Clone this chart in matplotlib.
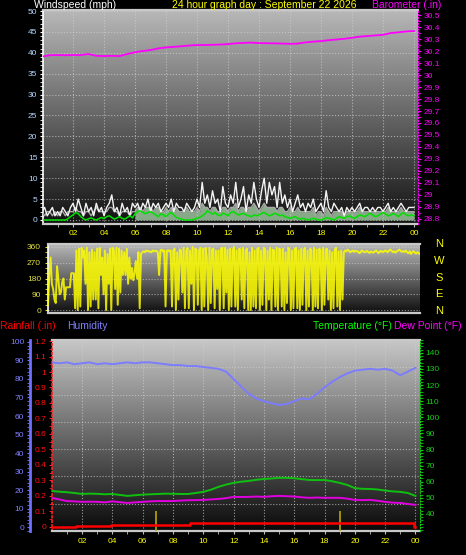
import numpy as np
import matplotlib.pyplot as plt
from matplotlib.ticker import MultipleLocator, FuncFormatter

plt.rcParams['font.family'] = ['Liberation Sans', 'DejaVu Sans']

# ---- data -------------------------------------------------------------
# wind, 10 minute readings (mph)
wind_gust = [2, 3, 1, 2, 3, 1,  2, 1, 3, 2, 1, 3,  4, 2, 5, 3, 1, 4,
             2, 3, 1, 4, 2, 3,  1, 3, 4, 6, 2, 3,  1, 4, 2, 3, 1, 4,
             3, 4, 2, 4, 3, 5,  2, 4, 3, 4, 2, 3,  4, 3, 5, 2, 4, 3,
             3, 2, 4, 3, 2, 3,  5, 3, 9, 4, 6, 3,  7, 4, 5, 2, 8, 4,
             3, 6, 4, 9, 3, 5,  8, 2, 6, 4, 9, 5,  3, 7, 10, 4, 9, 6,
             8, 3, 9, 4, 6, 3,  5, 2, 4, 6, 3, 4,  2, 4, 3, 5, 2, 3,
             4, 2, 7, 3, 2, 4,  3, 2, 3, 1, 3, 2,  3, 2, 3, 4, 2, 3,
             3, 2, 3, 2, 3, 3,  2, 3, 4, 2, 3, 2,  3, 4, 3, 2, 3, 3, 3]
wind_speed = [2, 1, 2, 2, 1, 2,  1, 2, 2, 1, 2, 2,  2, 3, 2, 2, 1, 2,
              2, 1, 2, 3, 2, 2,  2, 2, 3, 3, 2, 2,  1, 2, 2, 2, 1, 2,
              2, 3, 3, 2, 3, 3,  3, 2, 3, 3, 2, 2,  3, 2, 3, 2, 3, 2,
              2, 2, 3, 2, 2, 2,  3, 2, 4, 3, 3, 2,  3, 3, 2, 2, 3, 3,
              2, 3, 3, 4, 2, 3,  3, 2, 3, 3, 4, 3,  2, 3, 4, 3, 3, 3,
              3, 2, 3, 3, 2, 2,  3, 2, 2, 3, 2, 2,  2, 2, 2, 3, 1, 2,
              2, 1, 3, 2, 1, 2,  2, 2, 2, 1, 2, 2,  2, 2, 2, 3, 2, 2,
              2, 2, 2, 2, 2, 2,  2, 2, 3, 2, 2, 2,  2, 3, 2, 2, 2, 2, 2]
wind_avg = [0, 0, 0, 0, 0, 0,  0, 0, 0, 0, 0.3, 0.8,  1.2, 1.8, 1.5, 0.8, 0.3, 0,
            0.3, 0.5, 0.2, 0, 0.3, 0.6,  0.3, 0.8, 1.0, 0.6, 0.2, 0.5,
            0.8, 0.4, 0.2, 0.6, 1.0, 0.5,  1.5, 2.0, 2.2, 1.8, 1.5, 1.8,
            2.0, 1.6, 1.2, 0.8, 1.5, 1.2,  0.8, 1.4, 1.8, 1.2, 0.6, 0.4,
            0.2, 0, 0, 0, 0, 0.2,  0.4, 0.6, 1.0, 1.4, 2.2, 1.8,
            1.4, 1.8, 1.2, 1.0, 1.6, 1.4,  1.0, 1.8, 2.0, 1.6, 1.2, 1.4,
            1.6, 1.2, 1.0, 0.8, 1.2, 1.0,  1.2, 1.6, 1.8, 1.4, 1.0, 1.2,
            1.6, 1.4, 1.0, 1.2, 0.8, 0.6,  0.4, 0.6, 0.8, 0.4, 0.2, 0.4,
            0.2, 0, 0.2, 0.4, 0.2, 0,  0, 0.2, 0.6, 0.4, 0.2, 0,
            0.4, 0.8, 0.6, 0.4, 0.8, 1.0,  0.6, 0.4, 0.8, 1.2, 1.0, 0.8,
            1.2, 1.6, 1.2, 0.8, 1.0, 1.4,  1.8, 1.4, 1.0, 1.2, 1.6, 1.2,
            0.8, 1.4, 1.8, 1.2, 1.0, 1.2, 1.0]

# wind direction, 5 minute readings (degrees)
wind_dir = [30, 200, 300, 150, 120, 60, 40, 250, 180, 90, 100, 160,
            180, 60, 130, 130, 130, 130, 210, 210, 210, 10, 340, 0,
            350, 20, 355, 300, 340, 150, 355, 0, 330, 20, 345, 60,
            330, 60, 350, 10, 355, 200, 300, 90, 340, 0, 320, 150,
            350, 0, 355, 340, 120, 355, 30, 350, 100, 340, 200, 330,
            200, 350, 150, 300, 180, 240, 170, 210, 280, 180, 330, 10,
            320, 330, 335, 330, 340, 335, 338, 332, 330, 340, 335, 338,
            338, 330, 200, 340, 345, 335, 340, 20, 338, 342, 335, 340,
            20, 340, 350, 0, 330, 60, 345, 340, 100, 355, 10, 335,
            355, 10, 340, 150, 360, 0, 350, 345, 30, 340, 355, 0,
            350, 20, 355, 300, 0, 355, 40, 345, 350, 10, 340, 120,
            340, 0, 350, 355, 10, 355, 100, 345, 0, 350, 20, 340,
            360, 20, 340, 0, 350, 345, 60, 355, 10, 340, 350, 0,
            330, 0, 355, 20, 340, 10, 350, 355, 0, 340, 30, 355,
            350, 0, 340, 60, 355, 0, 345, 340, 20, 355, 0, 350,
            345, 20, 350, 0, 330, 40, 355, 345, 0, 340, 10, 350,
            355, 10, 340, 0, 350, 30, 345, 355, 0, 340, 20, 350,
            340, 0, 355, 20, 345, 10, 350, 340, 0, 355, 30, 345,
            350, 60, 340, 0, 330, 10, 345, 355, 20, 335, 0, 340,
            60, 330, 340, 335, 345, 338, 330, 335, 340, 332, 338, 335,
            335, 325, 330, 340, 335, 330, 332, 338, 330, 326, 334, 330,
            328, 335, 340, 332, 325, 335, 338, 330, 334, 340, 336, 330,
            340, 345, 338, 330, 335, 328, 335, 340, 345, 338, 332, 336,
            332, 340, 330, 325, 335, 320, 330, 336, 328, 322, 330, 325,
            318]

# half hourly readings
barometer = [30.153, 30.165, 30.167, 30.165, 30.167, 30.167, 30.175, 30.16,
             30.158, 30.16, 30.158, 30.175, 30.19, 30.2, 30.208, 30.222,
             30.23, 30.235, 30.24, 30.246, 30.25, 30.25, 30.252, 30.254,
             30.258, 30.264, 30.268, 30.27, 30.266, 30.265, 30.264, 30.262,
             30.26, 30.262, 30.272, 30.278, 30.283, 30.29, 30.296, 30.302,
             30.31, 30.32, 30.325, 30.33, 30.335, 30.35, 30.356, 30.363, 30.367]
humidity = [89, 88.5, 89, 88, 88.5, 89, 88, 88.5, 88, 88.5, 89, 88.5,
            89, 89, 88.5, 88, 87.5, 87.5, 87, 87, 86.5, 86, 85.5, 84,
            80, 76, 72, 69.5, 68, 67, 66, 66.5, 68, 69.5, 69, 72,
            75.5, 78.5, 81, 83, 84.5, 85, 85.5, 85, 85.5, 84.5, 82, 84, 86]
temperature = [54.3, 53.8, 53.5, 53.0, 52.4, 52.6, 52.5, 52.2, 52.4, 51.8,
               51.2, 51.6, 52.0, 52.2, 52.4, 52.6, 52.5, 52.4, 52.4, 53.0,
               53.7, 55.0, 56.8, 58.2, 59.3, 60.0, 60.5, 61.2, 61.7, 62.0,
               62.4, 62.4, 62.2, 61.6, 61.1, 61.0, 61.1, 60.3, 59.3, 58.0,
               56.0, 55.6, 55.5, 55.2, 54.5, 54.0, 53.7, 53.0, 51.2]
dew_point = [50.0, 49.0, 48.0, 47.8, 47.5, 47.6, 47.5, 47.2, 47.8, 47.3,
             46.8, 47.2, 47.5, 47.8, 48.0, 48.0, 48.0, 48.3, 48.5, 48.6,
             48.7, 49.0, 49.3, 49.8, 50.6, 50.5, 50.6, 50.8, 50.6, 51.0,
             51.2, 51.0, 50.8, 50.3, 50.0, 50.2, 50.0, 50.0, 50.0, 49.5,
             48.7, 48.6, 48.7, 48.2, 47.5, 47.0, 46.8, 46.2, 45.6]
half_hours = np.arange(0, 24.01, 0.5)
ten_min = np.arange(145) / 6
five_min = np.arange(289) / 12

rain_hours = [0, 1.6, 3.9, 9.1, 23.9, 24.0]
rain_total = [0, 0.008, 0.013, 0.028, 0.0, 0.0]
strike_hours = [6.85, 19.0]
strike_rate = [0.1, 0.1]

hour_ticks = list(range(2, 25, 2))
hour_labels = ['02', '04', '06', '08', '10', '12', '14', '16', '18', '20', '22', '00']

# ---- figure -----------------------------------------------------------
W, H = 466, 555
fig = plt.figure(figsize=(W / 100, H / 100), dpi=100, facecolor='black')


def box(x0, y0, x1, y1):
    return [x0 / W, 1 - y1 / H, (x1 - x0) / W, (y1 - y0) / H]


def gradient(ax, top, bottom):
    g = np.linspace(top, bottom, 256).reshape(-1, 1)
    ax.imshow(g, cmap='gray', vmin=0, vmax=1, extent=[0, 1, 0, 1],
              transform=ax.transAxes, aspect='auto', zorder=0)


def frame(ax):
    for s in ['top', 'bottom']:
        ax.spines[s].set_color('#c8c8c8')
        ax.spines[s].set_linewidth(1.6)
    ax.spines['left'].set_color('white')
    ax.spines['left'].set_linewidth(1.2)
    ax.spines['right'].set_visible(False)


grid_kw = dict(color='#d0d0d0', linestyle=':', linewidth=0.8, alpha=0.7)

# ---- top: wind speed and barometer ------------------------------------
ax1 = fig.add_axes(box(43, 10, 418, 224))
ax1.set_facecolor('black')
gradient(ax1, 0.72, 0.07)
ax1.fill_between(ten_min, 0, wind_speed, where=ten_min >= 6, color='#b8e8b8',
                 alpha=0.7, linewidth=0, zorder=2)
ax1.plot(ten_min, wind_speed, color='#a8a8a8', linewidth=1.0, zorder=3)
ax1.plot(ten_min, wind_gust, color='#f4f4f4', linewidth=1.0, zorder=4)
ax1.plot(ten_min, wind_avg, color='#00e000', linewidth=1.1, zorder=5)
ax1.set_xlim(0.06, 24.26)
ax1.set_ylim(-0.96, 50.24)
frame(ax1)
ax1.set_xticks(hour_ticks)
ax1.set_xticklabels(hour_labels)
ax1.xaxis.set_minor_locator(MultipleLocator(1))
ax1.yaxis.set_major_locator(MultipleLocator(5))
ax1.yaxis.set_minor_locator(MultipleLocator(1))
ax1.tick_params(axis='x', which='both', colors='#c0c0c0', labelcolor='#ffff00',
                labelsize=6, length=2, pad=2)
ax1.tick_params(axis='y', which='both', colors='white', labelcolor='#b4d8ff',
                labelsize=6, length=2, pad=2)
ax1.grid(True, which='major', **grid_kw)
ax1.set_axisbelow(False)

ax1b = ax1.twinx()
ax1b.plot(half_hours, barometer, color='#ff00ff', linewidth=1.3)
ax1b.set_ylim(28.758, 30.542)
ax1b.yaxis.set_major_locator(MultipleLocator(0.1))
ax1b.yaxis.set_minor_locator(MultipleLocator(0.05))
ax1b.yaxis.set_major_formatter(FuncFormatter(lambda v, p: f'{round(v, 1):g}'))
ax1b.tick_params(axis='y', which='both', colors='#ff00ff', labelcolor='#ff00ff',
                 labelsize=6, length=2, pad=2)
for s in ['top', 'bottom', 'left']:
    ax1b.spines[s].set_visible(False)
ax1b.spines['right'].set_color('#ff00ff')
ax1b.spines['right'].set_linestyle(':')

fig.text(34 / W, 1 - 4.5 / H, 'Windspeed (mph)', color='white', fontsize=7.5, va='center')
fig.text(172 / W, 1 - 4.5 / H, '24 hour graph day : September 22 2026', color='#ffff00',
         fontsize=7.5, va='center')
fig.text(372 / W, 1 - 4.5 / H, 'Barometer (.in)', color='#ff00ff', fontsize=7.5, va='center')

# ---- middle: wind direction -------------------------------------------
ax2 = fig.add_axes(box(48, 244, 420, 313))
ax2.set_facecolor('black')
gradient(ax2, 0.72, 0.06)
ax2.plot(five_min, wind_dir, color='#ffff00', linewidth=1.4, alpha=0.85, zorder=3)
ax2.set_xlim(0, 24)
ax2.set_ylim(-17, 377)
frame(ax2)
ax2.set_xticks([])
ax2.yaxis.set_major_locator(MultipleLocator(90))
ax2.yaxis.set_minor_locator(MultipleLocator(30))
ax2.tick_params(axis='y', which='both', colors='#e0e040', labelcolor='#e0e040',
                labelsize=6, length=2, pad=3)
ax2.grid(True, axis='y', **grid_kw)
for i, letter in enumerate(['N', 'W', 'S', 'E', 'N']):
    fig.text(439 / W, 1 - (244 + i * 16.8) / H, letter, color='#ffff00',
             fontsize=8, ha='center', va='center')

# ---- bottom: rain, humidity, temperature, dew point -------------------
ax3 = fig.add_axes(box(52, 340, 420, 531))
ax3.set_facecolor('black')
gradient(ax3, 0.78, 0.04)
ax3.step(rain_hours, rain_total, where='post', color='#ff0000', linewidth=1.8, zorder=4)
ax3.vlines(strike_hours, -0.03, strike_rate, color='#b8a800', linewidth=1.2, zorder=3)
ax3.set_xlim(0.02, 24.3)
ax3.set_ylim(-0.026, 1.2065)
frame(ax3)
ax3.spines['left'].set_color('#ff2020')
ax3.spines['left'].set_linestyle(':')
ax3.set_xticks(hour_ticks)
ax3.set_xticklabels(hour_labels)
ax3.xaxis.set_minor_locator(MultipleLocator(1))
ax3.yaxis.set_major_locator(MultipleLocator(0.1))
ax3.yaxis.set_minor_locator(MultipleLocator(0.05))
ax3.yaxis.set_major_formatter(FuncFormatter(lambda v, p: f'{round(v, 1):g}'))
ax3.tick_params(axis='x', which='both', colors='#c0c0c0', labelcolor='#ffff00',
                labelsize=6, length=2, pad=3)
ax3.tick_params(axis='y', which='both', colors='#ff2020', labelcolor='#ff1010',
                labelsize=6, length=2, pad=2)
ax3.grid(True, axis='x', **grid_kw)
for k in range(1, 7):
    ax3.plot([0, 1], [k / 7, k / 7], transform=ax3.transAxes, zorder=1, **grid_kw)

ax3h = ax3.twinx()
ax3h.plot(half_hours, humidity, color='#7c7cff', linewidth=1.4)
ax3h.set_ylim(-2.16, 101.08)
ax3h.yaxis.set_ticks_position('left')
ax3h.spines['left'].set_visible(True)
ax3h.spines['left'].set_position(('outward', 16))
ax3h.spines['left'].set_color('#7070ff')
ax3h.spines['left'].set_linewidth(2)
for s in ['top', 'bottom', 'right']:
    ax3h.spines[s].set_visible(False)
ax3h.yaxis.set_major_locator(MultipleLocator(10))
ax3h.yaxis.set_minor_locator(MultipleLocator(2))
ax3h.tick_params(axis='y', which='both', colors='#7070ff', labelcolor='#8080ff',
                 labelsize=6, length=2, pad=2)

ax3t = ax3.twinx()
ax3t.plot(half_hours, temperature, color='#10c010', linewidth=1.4)
ax3t.plot(half_hours, dew_point, color='#e000e0', linewidth=1.4)
ax3t.set_ylim(29.4, 148)
for s in ['top', 'bottom', 'left']:
    ax3t.spines[s].set_visible(False)
ax3t.spines['right'].set_color('#10d010')
ax3t.spines['right'].set_linestyle(':')
ax3t.yaxis.set_minor_locator(MultipleLocator(2))
ax3t.set_yticks(range(40, 141, 10))
ax3t.tick_params(axis='y', which='both', colors='#10d010', labelcolor='#10d010',
                 labelsize=6, length=2, pad=2)

fig.text(0.5 / W, 1 - 326 / H, 'Rainfall (.in)', color='#ff0000', fontsize=7.5, va='center')
fig.text(67 / W, 1 - 326 / H, 'Humidity', color='#8080ff', fontsize=7.5, va='center')
fig.text(313 / W, 1 - 326 / H, 'Temperature (°F)', color='#00ff00', fontsize=7.5, va='center')
fig.text(394 / W, 1 - 326 / H, 'Dew Point (°F)', color='#ff00ff', fontsize=7.5, va='center')

fig.savefig('out.png', dpi=100, facecolor='black')
